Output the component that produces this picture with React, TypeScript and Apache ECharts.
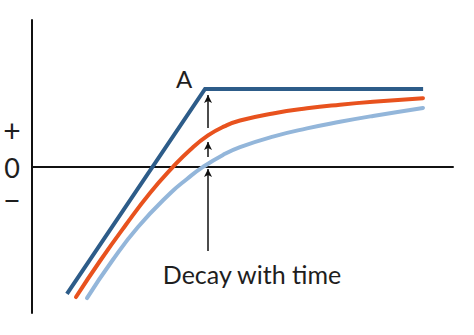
import React, { useEffect, useRef } from "react";
import * as echarts from "echarts";

// x: time (0..100), y: response (-100..100)
const darkBlue: [number, number][] = [
  [8.3, -87.0],
  [41.1, 52.9],
  [92.9, 52.9],
];
const orange: [number, number][] = [
  [10.45, -89.1],
  [16.15, -64.5],
  [22.09, -40.6],
  [28.03, -18.1],
  [33.49, -0.3],
  [37.53, 11.3],
  [41.81, 21.2],
  [45.84, 27.6],
  [49.41, 31.4],
  [57.24, 36.2],
  [65.32, 39.7],
  [73.16, 42.2],
  [81.0, 44.2],
  [92.87, 46.6],
];
const lightBlue: [number, number][] = [
  [13.06, -89.8],
  [19.0, -64.5],
  [25.18, -41.3],
  [32.78, -18.4],
  [36.82, -8.5],
  [40.62, -0.3],
  [45.37, 7.9],
  [49.41, 13.2],
  [57.24, 20.4],
  [65.32, 26.0],
  [73.16, 30.5],
  [81.0, 34.5],
  [92.87, 40.0],
];
// arrows at the decay time: [x, fromY, toY]
const arrows: [number, number, number][] = [
  [41.81, -57.7, -1.7],
  [41.81, 6.5, 16.7],
  [41.81, 26.3, 48.8],
];
const yLabels = ["+", "0", "\u2212"];
const peakLabel = "A";
const decayLabel = "Decay with time";

const FONT = "Lato, 'Open Sans', sans-serif";

export default function App() {
  const ref = useRef<HTMLDivElement>(null);
  useEffect(() => {
    const chart = echarts.init(ref.current!, null, { renderer: "svg" });
    const curveStyle = (color: string) => ({ color, width: 4, cap: "round" as const });
    const txt = (x: number, y: number, text: string, size: number) => ({
      type: "text",
      x,
      y,
      style: {
        text,
        font: `400 ${size}px ${FONT}`,
        fill: "#1e1e1e",
        textAlign: "center",
        textVerticalAlign: "middle",
      },
    });
    chart.setOption({
      animation: false,
      backgroundColor: "#ffffff",
      grid: { left: 32, right: 21, top: 20, bottom: 22 },
      xAxis: {
        type: "value",
        min: 0,
        max: 100,
        axisLine: { show: true, onZero: true, lineStyle: { color: "#111", width: 2 } },
        axisTick: { show: false },
        axisLabel: { show: false },
        splitLine: { show: false },
      },
      yAxis: {
        type: "value",
        min: -100,
        max: 100,
        axisLine: { show: true, onZero: false, lineStyle: { color: "#111", width: 2 } },
        axisTick: { show: false },
        axisLabel: { show: false },
        splitLine: { show: false },
      },
      series: [
        {
          type: "line",
          data: lightBlue,
          smooth: 0.5,
          symbol: "none",
          lineStyle: curveStyle("#93b6da"),
        },
        {
          type: "line",
          data: orange,
          smooth: 0.5,
          symbol: "none",
          lineStyle: curveStyle("#e8521e"),
        },
        {
          type: "line",
          data: darkBlue,
          smooth: false,
          symbol: "none",
          lineStyle: { color: "#2d5c89", width: 4, cap: "butt", join: "miter" },
          markLine: {
            silent: true,
            symbol: ["none", "arrow"],
            symbolSize: [6, 8],
            label: { show: false },
            lineStyle: { color: "#111", width: 1.5, type: "solid" },
            data: arrows.map(([x, y0, y1]) => [
              { coord: [x, y0] },
              { coord: [x, y1] },
            ]),
          },
        },
      ],
      graphic: [
        txt(12, 130, yLabels[0], 30),
        txt(12, 167, yLabels[1], 27),
        txt(12, 199, yLabels[2], 30),
        txt(184, 78, peakLabel, 24),
        txt(252, 274, decayLabel, 25),
      ],
    });
    return () => chart.dispose();
  }, []);
  return (
    <div
      ref={ref}
      style={{ position: "fixed", left: 0, top: 0, width: 474, height: 335, background: "#fff" }}
    />
  );
}
